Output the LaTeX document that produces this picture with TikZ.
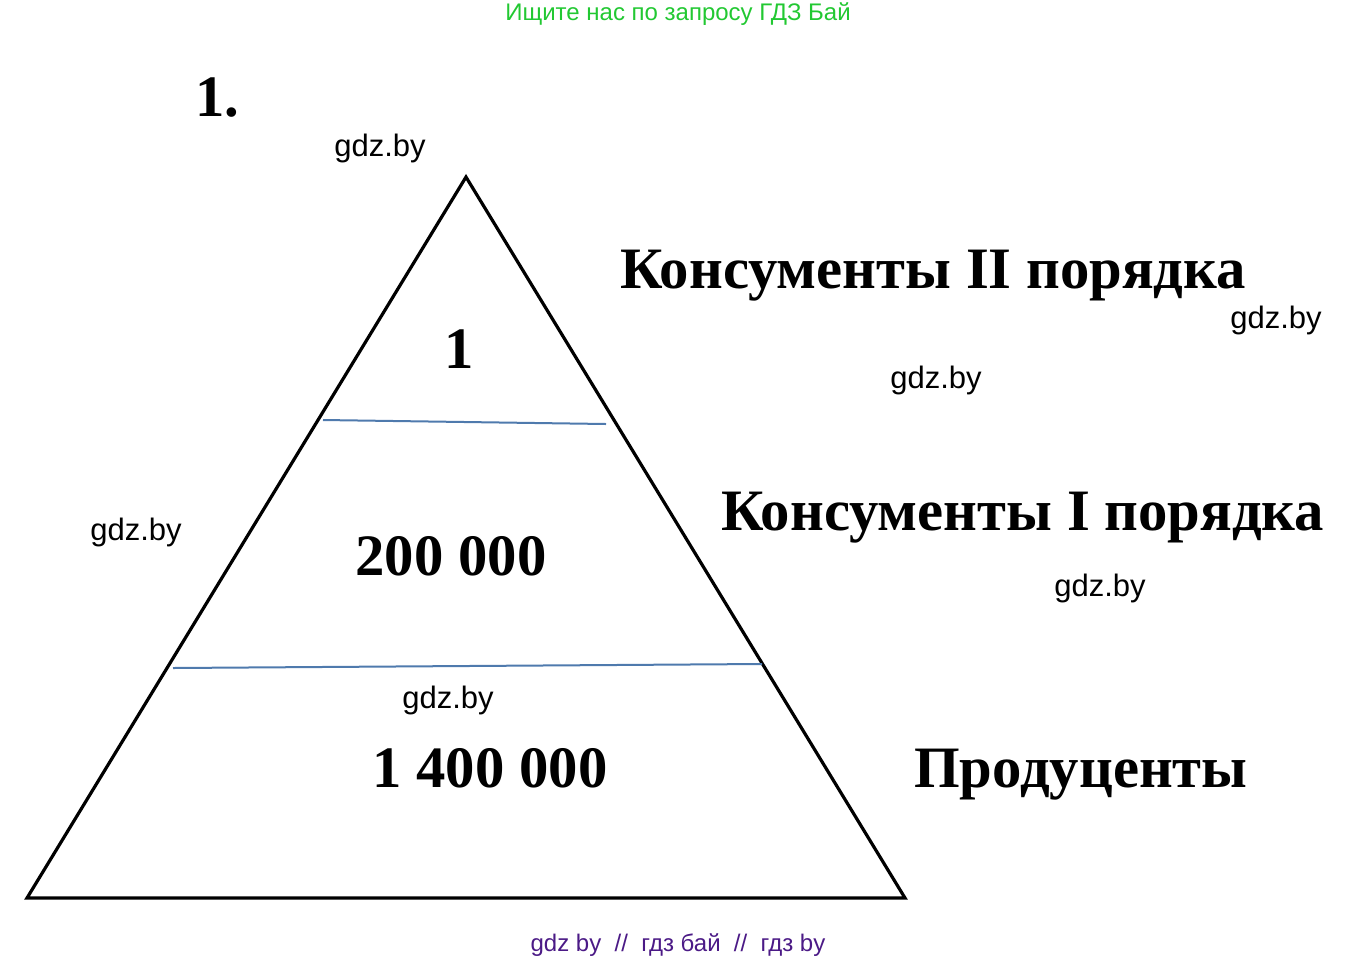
\documentclass[tikz,border=0pt]{standalone}
\usepackage{fontspec}
\setmainfont{Liberation Serif}
\newfontfamily\wmfont{Liberation Sans}
\definecolor{hdrgreen}{HTML}{22C832}
\definecolor{ftpurple}{HTML}{4B1A86}
\definecolor{layerblue}{HTML}{4F7AAD}
\begin{document}
\begin{tikzpicture}[x=1pt,y=-1pt,
  wm/.style={inner sep=0pt,font=\wmfont\fontsize{31}{33}\selectfont},
  big/.style={inner sep=0pt,font=\bfseries\fontsize{58.7}{60}\selectfont},
  layer/.style={draw=layerblue,line width=2pt}]
\useasboundingbox (0,0) rectangle (1359,962);
% header / footer
\node[inner sep=0pt,font=\wmfont\fontsize{24}{26}\selectfont,text=hdrgreen] (hdr) at (678,14) {Ищите нас по запросу ГДЗ Бай};
\node[inner sep=0pt,font=\wmfont\fontsize{24}{26}\selectfont,text=ftpurple] (ftr) at (678,945) {gdz by \ // \ гдз бай \ // \ гдз by};
% title
\node[big,anchor=base west] (num) at (195,116) {1.};
% pyramid
\coordinate (apex) at (466,177);
\coordinate (bl) at (27,898);
\coordinate (br) at (905,898);
\draw[line width=3.2pt,line join=miter] (apex) -- (br) -- (bl) -- cycle;
\coordinate (l1a) at (323,420);
\coordinate (l1b) at (606,424);
\coordinate (l2a) at (173,668);
\coordinate (l2b) at (762,664);
\draw[layer] (l1a) -- (l1b);
\draw[layer] (l2a) -- (l2b);
% values
\node[big,anchor=base] (v1) at (459,368) {1};
\node[big,anchor=base] (v2) at (451,575) {200 000};
\node[big,anchor=base] (v3) at (490,787) {1 400 000};
% labels
\node[big,anchor=base west] (k2) at (620,288) {Консументы II порядка};
\node[big,anchor=base west] (k1) at (721,530) {Консументы I порядка};
\node[big,anchor=base west] (pr) at (914,787) {Продуценты};
% watermarks
\node[wm] (w1) at (380,148) {gdz.by};
\node[wm] (w2) at (1276,320) {gdz.by};
\node[wm] (w3) at (936,380) {gdz.by};
\node[wm] (w4) at (136,532) {gdz.by};
\node[wm] (w5) at (1100,588) {gdz.by};
\node[wm] (w6) at (448,700) {gdz.by};
\end{tikzpicture}
\end{document}
